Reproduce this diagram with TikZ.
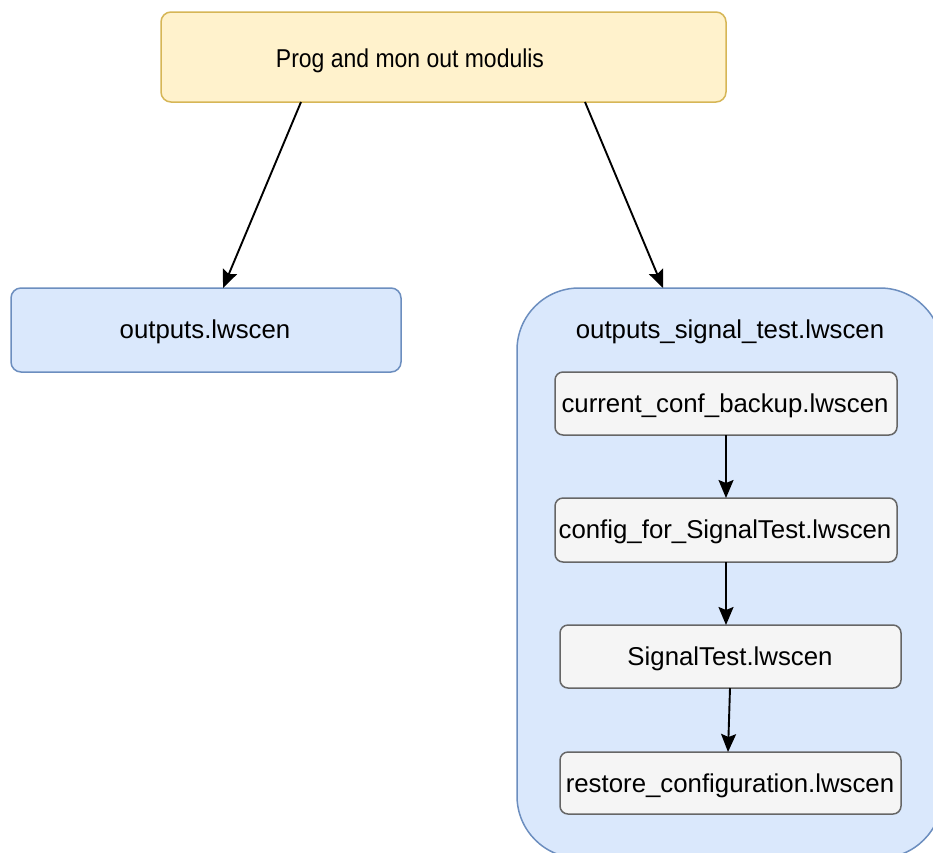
\documentclass[tikz,border=0pt]{standalone}
\usepackage{fontspec}
\setmainfont{Liberation Sans}
\usetikzlibrary{arrows.meta}
\definecolor{yfill}{HTML}{FFF2CC}
\definecolor{ydraw}{HTML}{D6B656}
\definecolor{bfill}{HTML}{DAE8FC}
\definecolor{bdraw}{HTML}{6C8EBF}
\definecolor{gfill}{HTML}{F5F5F5}
\definecolor{gdraw}{HTML}{666666}
\begin{document}
\begin{tikzpicture}[x=1pt,y=-1pt,
  txt/.style={font=\fontsize{25.8}{30}\selectfont, text=black},
  toptxt/.style={font=\fontsize{25.8}{30}\selectfont, text=black, xscale=0.89},
  topbox/.style={draw=ydraw, fill=yfill, line width=1.5pt, rounded corners=10pt},
  bluebox/.style={draw=bdraw, fill=bfill, line width=1.5pt, rounded corners=10pt},
  greybox/.style={draw=gdraw, fill=gfill, line width=1.5pt, rounded corners=8pt},
  conn/.style={draw=black, line width=1.9pt, -{Stealth[length=18pt,width=15pt,inset=3pt]}}
]
\useasboundingbox (0,0) rectangle (933,852);
\fill[white] (0,0) rectangle (933,852);
% container
\draw[bluebox, rounded corners=62pt] (517,288) rectangle (942,858);
% nodes
\draw[topbox] (161,12) rectangle (726,102);
\node[toptxt] (top) at (410,61) {Prog and mon out modulis};
\coordinate (topL) at (301,102);
\coordinate (topR) at (585,102);

\draw[bluebox] (11,288) rectangle (401,372);
\node[txt] (out) at (205,332) {outputs.lwscen};
\coordinate (outT) at (223,288);

\node[txt] (ctitle) at (730,332) {outputs\_signal\_test.lwscen};
\coordinate (contT) at (663,288);

\draw[greybox] (555,372) rectangle (897,435);
\node[txt] (n1) at (725,406) {current\_conf\_backup.lwscen};
\draw[greybox] (555,498) rectangle (897,562);
\node[txt] (n2) at (725,532) {config\_for\_SignalTest.lwscen};
\draw[greybox] (560,625) rectangle (901,688);
\node[txt] (n3) at (730,659) {SignalTest.lwscen};
\draw[greybox] (560,752) rectangle (901,814);
\node[txt] (n4) at (730,786) {restore\_configuration.lwscen};

\coordinate (n1b) at (726,435);
\coordinate (n2t) at (726,498);
\coordinate (n2b) at (726,562);
\coordinate (n3t) at (726,625);
\coordinate (n3b) at (730,688);
\coordinate (n4t) at (728,752);

\draw[conn] (topL) -- (outT);
\draw[conn] (topR) -- (contT);
\draw[conn] (n1b) -- (n2t);
\draw[conn] (n2b) -- (n3t);
\draw[conn] (n3b) -- (n4t);
\end{tikzpicture}
\end{document}
